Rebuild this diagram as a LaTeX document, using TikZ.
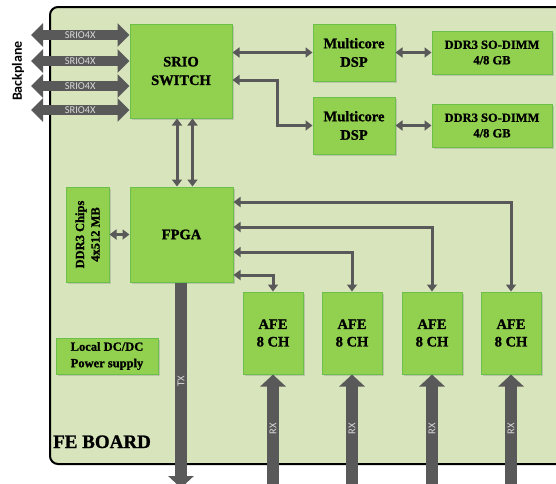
\documentclass[tikz,border=0pt]{standalone}
\usepackage{fontspec}
\setmainfont{Liberation Serif}[BoldFeatures={FakeBold=1.2}]
\newfontfamily\carl{Carlito}
\usetikzlibrary{arrows.meta,shadows,calc}
\definecolor{boardfill}{HTML}{D8E4BC}
\definecolor{boxfill}{HTML}{92D050}
\definecolor{boxline}{HTML}{6CC04A}
\definecolor{arrowgray}{HTML}{595959}
\definecolor{labelgray}{HTML}{D9D9D9}
\begin{document}
\begin{tikzpicture}[x=1pt,y=-1pt,
  blk/.style={draw=boxline, line width=1pt, fill=boxfill,
    drop shadow={shadow xshift=1.5pt,shadow yshift=-1.5pt,opacity=.3},
    align=center, inner sep=0pt, font=\bfseries\fontsize{14.5}{18.5}\selectfont},
  mem/.style={blk, font=\bfseries\fontsize{12.5}{15.5}\selectfont},
  thinarr/.style={draw=arrowgray, line width=3pt,
    {Triangle[length=7pt,width=10pt]}-{Triangle[length=7pt,width=10pt]}},
  bigarr/.style={draw=arrowgray, line width=12pt, -{Triangle[length=12pt,width=25pt]}},
  bparr/.style={draw=arrowgray, line width=10pt,
    {Triangle[length=12pt,width=23pt]}-{Triangle[length=12pt,width=23pt]}},
  lab/.style={text=labelgray, font=\carl\fontsize{10.5}{10.5}\selectfont, inner sep=0pt}
]
\useasboundingbox (0,0) rectangle (556,483);
\clip (0,0) rectangle (556,483);
% board
\draw[line width=2pt, fill=boardfill, rounded corners=8pt] (50,7) rectangle (590,464);
\node[anchor=base west, font=\bfseries\fontsize{19}{19}\selectfont, inner sep=0pt] (fe) at (53,448) {FE BOARD};
% blocks
\node[blk, minimum width=102pt, minimum height=94pt] (srio) at (181,71) {SRIO\\SWITCH};
\node[blk, minimum width=82pt, minimum height=57pt] (dsp1) at (354,52.5) {Multicore\\DSP};
\node[blk, minimum width=82pt, minimum height=57pt] (dsp2) at (354,125.5) {Multicore\\DSP};
\node[mem, minimum width=120pt, minimum height=43pt] (ddr1) at (492,52.5) {DDR3 SO-DIMM\\4/8 GB};
\node[mem, minimum width=120pt, minimum height=43pt] (ddr2) at (492,125.5) {DDR3 SO-DIMM\\4/8 GB};
\node[blk, minimum width=103pt, minimum height=95pt] (fpga) at (181.5,234.5) {FPGA};
\node[mem, minimum width=95pt, minimum height=43pt, rotate=90] (ddrc) at (87.5,234.5) {DDR3 Chips\\4x512 MB};
\node[mem, minimum width=102pt, minimum height=36pt, font=\bfseries\fontsize{12.5}{16.5}\selectfont] (pwr) at (107,356) {Local DC/DC\\Power supply};
\foreach \n/\x in {1/273,2/352,3/432,4/511}{
  \node[blk, minimum width=60pt, minimum height=82pt, font=\bfseries\fontsize{14.5}{17.5}\selectfont] (afe\n) at (\x,333) {AFE\\8 CH};
}
% backplane
\node[rotate=90, font=\carl\bfseries\fontsize{14}{14}\selectfont, inner sep=0pt] (bp) at (18,71) {Backplane};
\foreach \i/\y in {1/35,2/61,3/86,4/110}{
  \coordinate (bp\i) at (31,\y);
  \draw[bparr] (bp\i) -- (bp\i -| srio.west) node[lab, pos=.5] {SRIO4X};
}
% thin connectors
\draw[thinarr] (srio.east |- dsp1.west) -- (dsp1.west);
\draw[thinarr] ([yshift=-9pt]srio.east) -- ++(45,0) |- (dsp2.west);
\draw[thinarr] (dsp1.east) -- (ddr1.west);
\draw[thinarr] (dsp2.east) -- (ddr2.west);
\draw[thinarr] ([xshift=-4pt]srio.south) -- ([xshift=-4pt]srio.south |- fpga.north);
\draw[thinarr] ([xshift=11.5pt]srio.south) -- ([xshift=11.5pt]srio.south |- fpga.north);
\draw[thinarr] (ddrc.south) -- (fpga.west);
\draw[thinarr] ([yshift=32.5pt]fpga.east) -| (afe4.north);
\draw[thinarr] ([yshift=7.5pt]fpga.east) -| (afe3.north);
\draw[thinarr] ([yshift=-17.5pt]fpga.east) -| (afe2.north);
\draw[thinarr] ([yshift=-40.5pt]fpga.east) -| (afe1.north);
% TX / RX
\coordinate (txend) at (181,488);
\draw[bigarr] (fpga.south -| txend) -- (txend) node[lab, rotate=90, pos=.48] {TX};
\foreach \n in {1,2,3,4}{
  \coordinate (rx\n) at ($(afe\n.south)+(0,120)$);
  \draw[bigarr] (rx\n) -- (afe\n.south);
  \node[lab, rotate=90] (rxl\n) at ($(afe\n.south)+(0,54)$) {RX};
}
\end{tikzpicture}
\end{document}
